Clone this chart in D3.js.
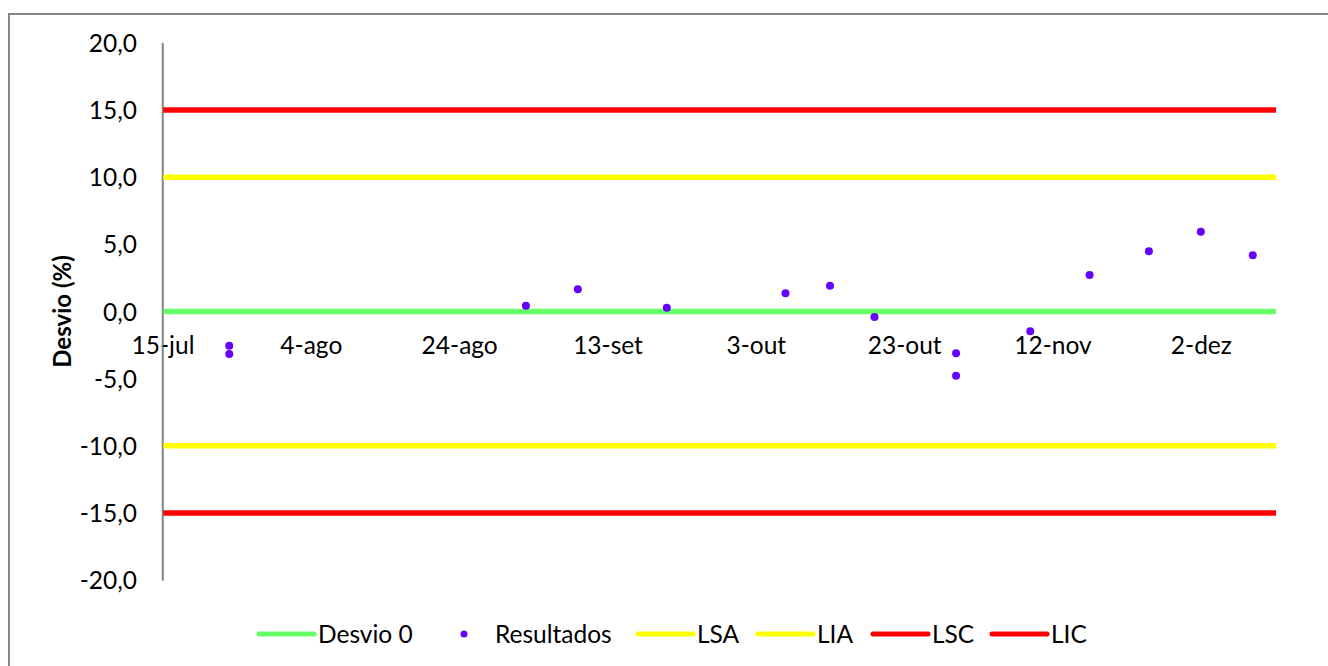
<!DOCTYPE html>
<html>
<head>
<meta charset="utf-8">
<script src="https://cdn.jsdelivr.net/npm/d3@7"></script>
<style>
  html, body { margin: 0; padding: 0; background: #fff; }
  svg { display: block; }
  text { font-family: Lato, "Open Sans", sans-serif; fill: #000; }
</style>
</head>
<body>
<svg id="chart" width="1328" height="666"></svg>
<script>
// ---- data ----
const resultDates = ["2013-07-24","2013-07-24","2013-09-02","2013-09-09","2013-09-21","2013-10-07","2013-10-13","2013-10-19","2013-10-30","2013-10-30","2013-11-09","2013-11-17","2013-11-25","2013-12-02","2013-12-09"];
const resultValues = [-2.55, -3.16, 0.43, 1.65, 0.28, 1.36, 1.92, -0.41, -3.11, -4.78, -1.47, 2.72, 4.48, 5.94, 4.18];

const limitNames  = ["Desvio 0", "LSA", "LIA", "LSC", "LIC"];
const limitValues = [0, 10, -10, 15, -15];
const limitColors = ["#66FF66", "#FFFF00", "#FFFF00", "#FF0000", "#FF0000"];

const xTickDates  = ["2013-07-15","2013-08-04","2013-08-24","2013-09-13","2013-10-03","2013-10-23","2013-11-12","2013-12-02"];
const xTickLabels = ["15-jul","4-ago","24-ago","13-set","3-out","23-out","12-nov","2-dez"];
const yTicks = [20, 15, 10, 5, 0, -5, -10, -15, -20];

const xDomain = ["2013-07-15", "2013-12-12"];
const yDomain = [-20, 20];

const legendItems = ["Desvio 0", "Resultados", "LSA", "LIA", "LSC", "LIC"];
const pointColor = "#6600FF";

// ---- layout ----
const parse = d3.utcParse("%Y-%m-%d");
const svg = d3.select("#chart");
const plot = { left: 162.5, right: 1275, top: 42.8, bottom: 580.2 };
const fs = "24.5px";

const x = d3.scaleUtc().domain(xDomain.map(parse)).range([plot.left, plot.right]);
const y = d3.scaleLinear().domain(yDomain).range([plot.bottom, plot.top]);

// chart border (only top/left visible in frame)
svg.append("rect")
  .attr("x", 9).attr("y", 14)
  .attr("width", 1340).attr("height", 680)
  .attr("fill", "none").attr("stroke", "#878787").attr("stroke-width", 2);

// y axis
const yAxis = d3.axisLeft(y).tickValues(yTicks).tickSize(0).tickPadding(0)
  .tickFormat(d => d3.format(".1f")(d).replace(".", ",").replace("−", "-"));
const gy = svg.append("g").attr("transform", `translate(${plot.left},0)`).call(yAxis);
gy.select(".domain").attr("stroke", "#868686").attr("stroke-width", 1.5);
gy.selectAll(".tick text")
  .attr("x", -25.5)
  .attr("dy", "0.35em")
  .style("font-family", "Lato, sans-serif")
  .style("font-size", fs)
  .attr("fill", "#000");

// y title
svg.append("text")
  .attr("transform", `translate(71,${y(0)}) rotate(-90)`)
  .attr("text-anchor", "middle")
  .style("font-size", "24px")
  .style("font-weight", "bold")
  .text("Desvio (%)");

// limit lines
const [x0, x1] = x.domain();
limitValues.forEach((v, i) => {
  svg.append("line")
    .attr("x1", x(x0)).attr("x2", x(x1) + 1)
    .attr("y1", y(v)).attr("y2", y(v))
    .attr("stroke", limitColors[i]).attr("stroke-width", 5.5);
});

// x axis labels (axis crosses at 0, labels only)
const xAxis = d3.axisBottom(x).tickValues(xTickDates.map(parse)).tickSize(0).tickPadding(0)
  .tickFormat((d, i) => xTickLabels[i]);
const gx = svg.append("g").attr("transform", `translate(0,${y(0)})`).call(xAxis);
gx.select(".domain").remove();
gx.selectAll(".tick text")
  .attr("y", 42.5).attr("dy", 0)
  .style("font-family", "Lato, sans-serif")
  .style("font-size", fs)
  .attr("fill", "#000");

// redraw y axis line on top of lines
svg.append("line")
  .attr("x1", plot.left).attr("x2", plot.left)
  .attr("y1", plot.top).attr("y2", plot.bottom)
  .attr("stroke", "#868686").attr("stroke-width", 1.5);

// points
svg.append("g").selectAll("circle")
  .data(resultValues.map((v, i) => ({ d: parse(resultDates[i]), v })))
  .join("circle")
  .attr("cx", d => x(d.d))
  .attr("cy", d => y(d.v))
  .attr("r", 4)
  .attr("fill", pointColor);

// legend
const legendPos = [259, 464, 638, 758, 873, 992];
const ly = 634;
const leg = svg.append("g");
legendItems.forEach((name, i) => {
  const lx = legendPos[i];
  if (name === "Resultados") {
    leg.append("circle").attr("cx", lx).attr("cy", ly).attr("r", 3.5).attr("fill", pointColor);
    leg.append("text").attr("x", lx + 31).attr("y", ly).attr("dy", "0.35em")
      .style("font-size", fs).text(name);
  } else {
    const idx = limitNames.indexOf(name);
    leg.append("line").attr("x1", lx).attr("x2", lx + 55).attr("y1", ly).attr("y2", ly)
      .attr("stroke", limitColors[idx]).attr("stroke-width", 5).attr("stroke-linecap", "round");
    leg.append("text").attr("x", lx + 59).attr("y", ly).attr("dy", "0.35em")
      .style("font-size", fs).text(name);
  }
});
</script>
</body>
</html>
